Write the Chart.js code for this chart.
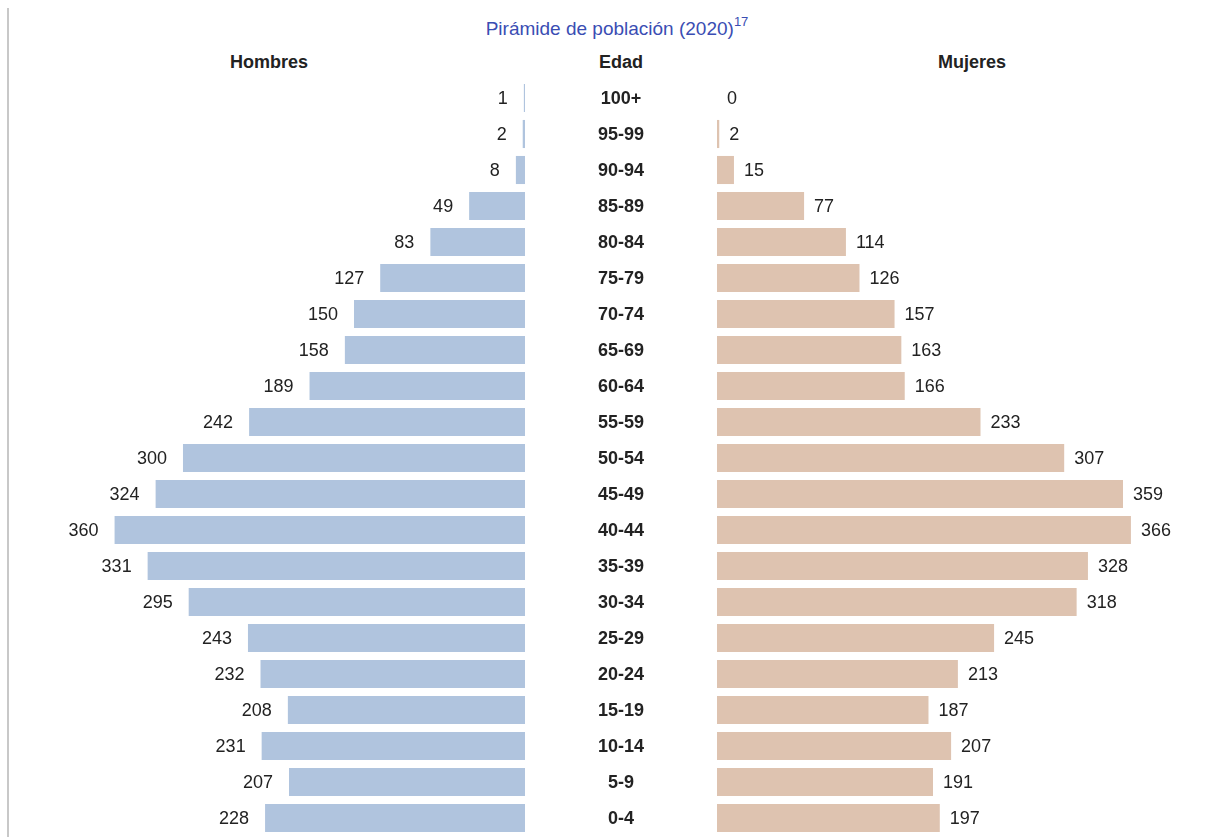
<!DOCTYPE html>
<html lang="es">
<head>
<meta charset="utf-8">
<title>Pirámide de población (2020)</title>
<script src="https://cdn.jsdelivr.net/npm/chart.js@4"></script>
<style>
    html, body { margin: 0; padding: 0; background: #fff; }
    body { width: 1224px; height: 837px; position: relative; overflow: hidden;
           font-family: "Liberation Sans", Arial, sans-serif; color: #222; }
    .side-rule { position: absolute; left: 7px; top: 8px; width: 2px; bottom: 0; background: #c8c8c8; }
    .title { position: absolute; top: 16px; left: 0; width: 1224px; text-align: center; padding-left: 10px;
             box-sizing: border-box; font-size: 19px; color: #3a4db3; }
    .title sup { font-size: 13px; position: relative; top: -2px; }
    .head { position: absolute; top: 52px; font-size: 18px; font-weight: bold; color: #222;
            transform: translateX(-50%); white-space: nowrap; }
    #left-wrap { position: absolute; left: 0; top: 80px; width: 525px; height: 756px; }
    #right-wrap { position: absolute; left: 525px; top: 80px; width: 699px; height: 756px; }
</style>
</head>
<body>
<div class="side-rule"></div>
<div class="title">Pirámide de población (2020)<sup>17</sup></div>
<div class="head" style="left:269px">Hombres</div>
<div class="head" style="left:621px">Edad</div>
<div class="head" style="left:972px">Mujeres</div>
<div id="left-wrap"><canvas id="leftChart"></canvas></div>
<div id="right-wrap"><canvas id="rightChart"></canvas></div>

<script>
// Age groups, oldest at the top
const ageGroups = ['100+', '95-99', '90-94', '85-89', '80-84', '75-79', '70-74', '65-69', '60-64',
    '55-59', '50-54', '45-49', '40-44', '35-39', '30-34', '25-29', '20-24', '15-19', '10-14', '5-9', '0-4'];
const hombres = [1, 2, 8, 49, 83, 127, 150, 158, 189, 242, 300, 324, 360, 331, 295, 243, 232, 208, 231, 207, 228];
const mujeres = [0, 2, 15, 77, 114, 126, 157, 163, 166, 233, 307, 359, 366, 328, 318, 245, 213, 187, 207, 191, 197];

const font = '"Liberation Sans", Arial, sans-serif';

// draws the value next to each bar (and the age labels in the middle column)
const valueLabels = {
    id: 'valueLabels',
    afterDatasetsDraw(chart, args, opts) {
        const ctx = chart.ctx;
        const meta = chart.getDatasetMeta(0);
        const data = chart.data.datasets[0].data;
        const yScale = chart.scales.y;
        ctx.save();
        ctx.textBaseline = 'middle';
        ctx.fillStyle = '#222';
        ctx.font = '18px ' + font;
        meta.data.forEach((bar, i) => {
            if (opts.side === 'left') {
                ctx.textAlign = 'right';
                ctx.fillText(data[i], bar.x - 16, bar.y + 1);
            } else {
                ctx.textAlign = 'left';
                ctx.fillText(data[i], bar.x + 10, bar.y + 1);
            }
        });
        if (opts.side === 'right') {
            ctx.font = 'bold 18px ' + font;
            ctx.textAlign = 'center';
            chart.data.labels.forEach((lab, i) => {
                ctx.fillText(lab, chart.chartArea.left - 96, yScale.getPixelForValue(i) + 1);
            });
        }
        ctx.restore();
    }
};

const common = {
    indexAxis: 'y',
    responsive: true,
    maintainAspectRatio: false,
    animation: false,
    plugins: { legend: { display: false }, tooltip: { enabled: false }, title: { display: false } }
};

new Chart(document.getElementById('leftChart'), {
    type: 'bar',
    data: {
        labels: ageGroups,
        datasets: [{
            data: hombres,
            backgroundColor: '#b0c4de',
            borderWidth: 0,
            barPercentage: 1,
            categoryPercentage: 0.78
        }]
    },
    options: {
        ...common,
        layout: { padding: 0 },
        plugins: { ...common.plugins, valueLabels: { side: 'left' } },
        scales: {
            x: { display: false, reverse: true, min: 0, max: 460.5 },
            y: { display: false }
        }
    },
    plugins: [valueLabels]
});

new Chart(document.getElementById('rightChart'), {
    type: 'bar',
    data: {
        labels: ageGroups,
        datasets: [{
            data: mujeres,
            backgroundColor: '#dec3b0',
            borderWidth: 0,
            barPercentage: 1,
            categoryPercentage: 0.78
        }]
    },
    options: {
        ...common,
        layout: { padding: { left: 192, right: 0, top: 0, bottom: 0 } },
        plugins: { ...common.plugins, valueLabels: { side: 'right' } },
        scales: {
            x: { display: false, min: 0, max: 448.3 },
            y: { display: false }
        }
    },
    plugins: [valueLabels]
});
</script>
</body>
</html>
